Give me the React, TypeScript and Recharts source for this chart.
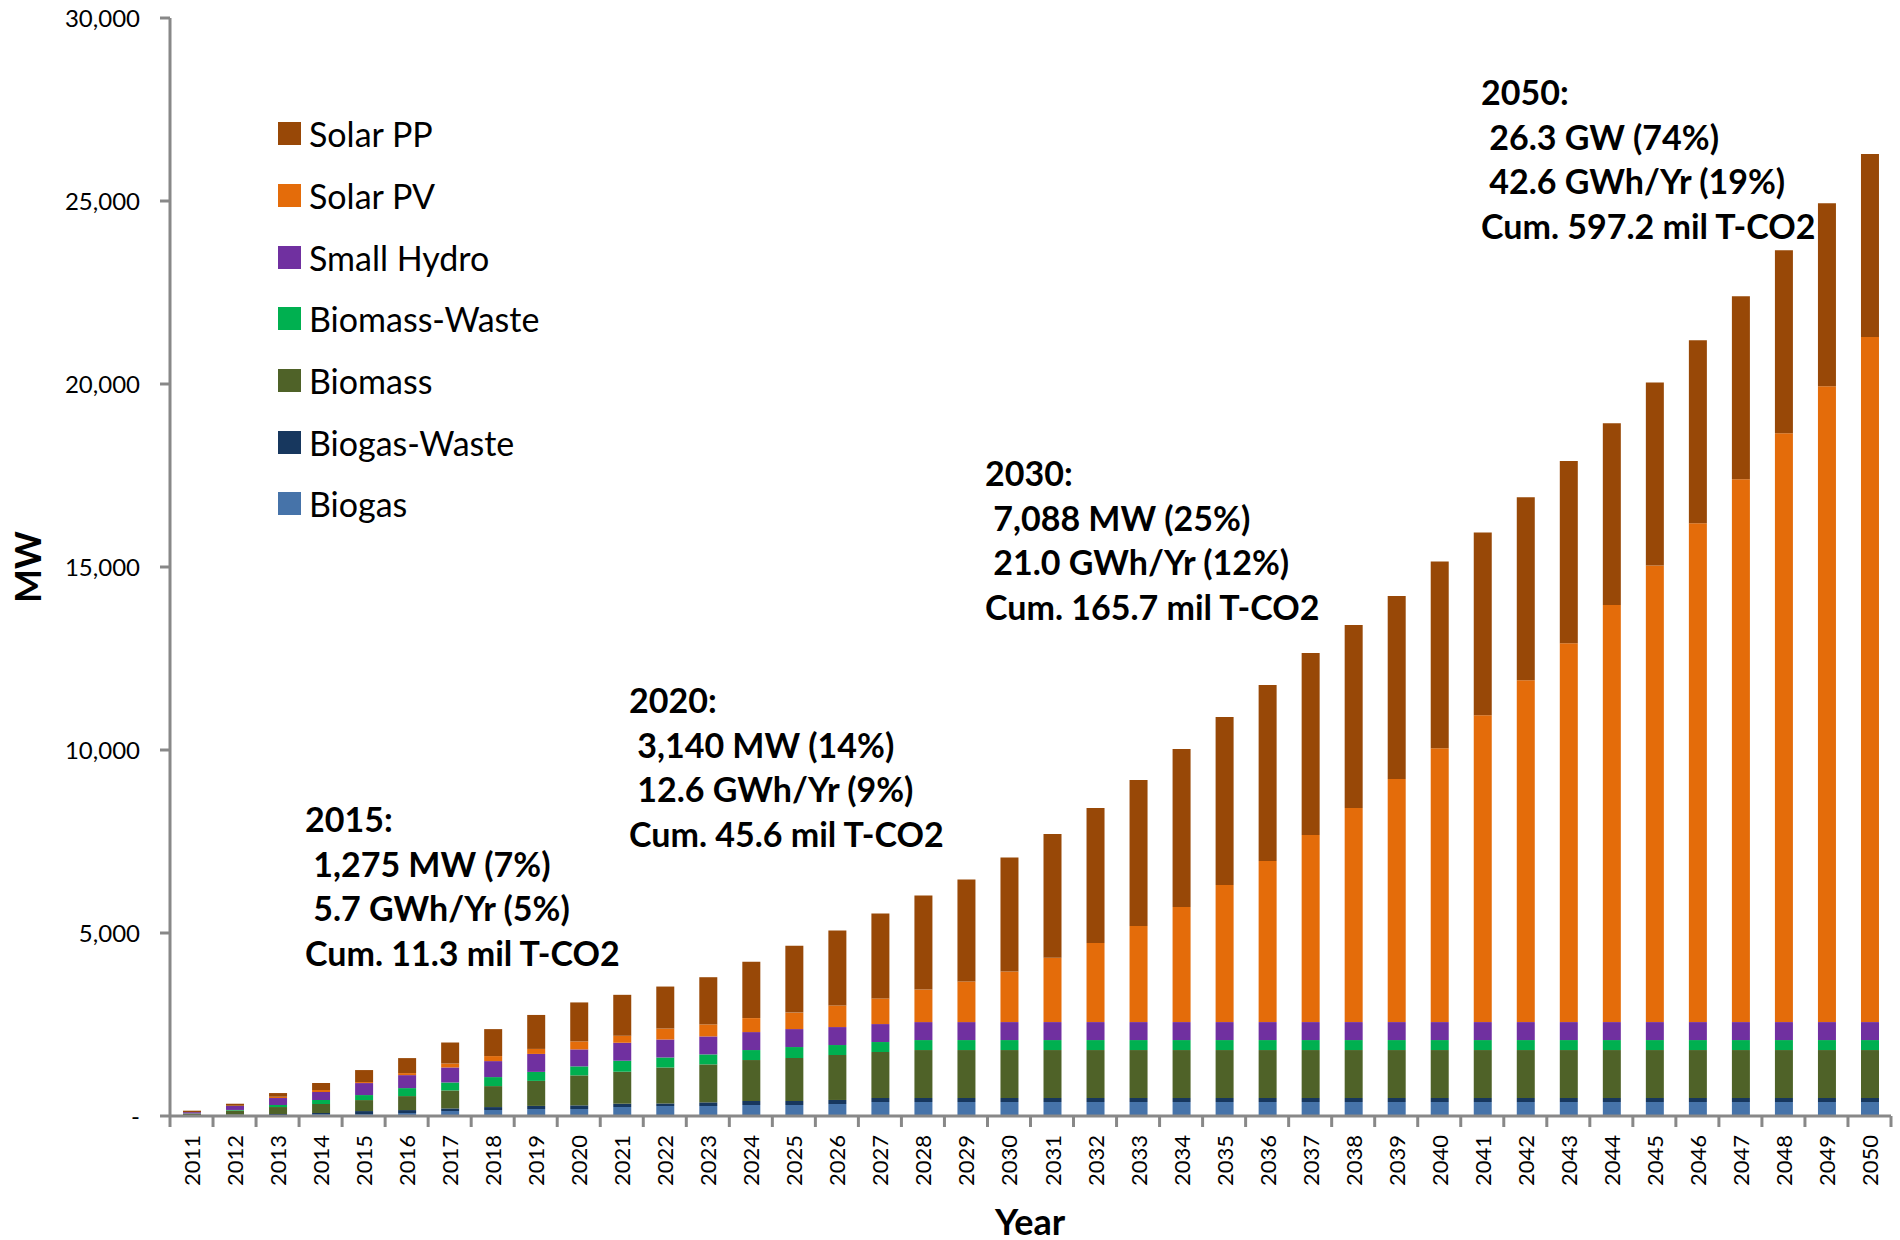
import React from 'react';
import { BarChart, Bar, XAxis, YAxis, Legend } from 'recharts';

const years = ['2011','2012','2013','2014','2015','2016','2017','2018','2019','2020','2021','2022','2023','2024','2025','2026','2027','2028','2029','2030','2031','2032','2033','2034','2035','2036','2037','2038','2039','2040','2041','2042','2043','2044','2045','2046','2047','2048','2049','2050'];

const biogas = [10,20,27,55,55,82,137,164,191,191,246,273,273,300,300,328,382,382,382,382,382,382,382,382,382,382,382,382,382,382,382,382,382,382,382,382,382,382,382,382];
const biogasWaste = [5,20,27,27,80,80,70,80,85,100,90,70,100,110,110,110,110,110,110,110,110,110,110,110,110,110,110,110,110,110,110,110,110,110,110,110,110,110,110,110];
const biomass = [50,110,191,246,300,382,491,573,683,819,874,983,1037,1119,1174,1228,1256,1310,1310,1310,1310,1310,1310,1310,1310,1310,1310,1310,1310,1310,1310,1310,1310,1310,1310,1310,1310,1310,1310,1310];
const biomassWaste = [5,15,55,109,137,218,218,246,246,246,300,273,273,273,300,273,273,273,273,273,273,273,273,273,273,273,273,273,273,273,273,273,273,273,273,273,273,273,273,273];
const smallHydro = [35,110,191,218,328,355,410,437,491,464,491,491,491,491,491,491,491,491,491,491,491,491,491,491,491,491,491,491,491,491,491,491,491,491,491,491,491,491,491,491];
const solarPV = [0,5,36,55,27,55,109,137,137,218,191,300,328,382,450,590,700,890,1110,1380,1760,2162,2626,3145,3746,4402,5113,5850,6643,7484,8386,9337,10348,11394,12476,13632,14834,16085,17372,18719];
const solarPP = [40,55,100,191,328,410,573,737,928,1065,1119,1147,1290,1540,1830,2049,2322,2568,2786,3115,3380,3688,3989,4317,4591,4809,4972,5000,5000,5100,4990,5000,4980,4970,5000,5000,5000,5000,5000,5000];

const yTicks = [0, 5000, 10000, 15000, 20000, 25000, 30000];

const seriesNames = ['Biogas', 'Biogas-Waste', 'Biomass', 'Biomass-Waste', 'Small Hydro', 'Solar PV', 'Solar PP'];
const seriesKeys = ['biogas', 'biogasWaste', 'biomass', 'biomassWaste', 'smallHydro', 'solarPV', 'solarPP'];
const seriesColors = ['#4673A9', '#17375E', '#4F6228', '#00B050', '#7030A0', '#E46C0A', '#984807'];
const legendOrder = ['Solar PP', 'Solar PV', 'Small Hydro', 'Biomass-Waste', 'Biomass', 'Biogas-Waste', 'Biogas'];

const annotations = [
  { lines: ['2015:', ' 1,275 MW (7%)', ' 5.7 GWh/Yr (5%)', 'Cum. 11.3 mil T-CO2'] },
  { lines: ['2020:', ' 3,140 MW (14%)', ' 12.6 GWh/Yr (9%)', 'Cum. 45.6 mil T-CO2'] },
  { lines: ['2030:', ' 7,088 MW (25%)', ' 21.0 GWh/Yr (12%)', 'Cum. 165.7 mil T-CO2'] },
  { lines: ['2050:', ' 26.3 GW (74%)', ' 42.6 GWh/Yr (19%)', 'Cum. 597.2 mil T-CO2'] },
];
const annotationPos = [
  { left: 305, top: 797 },
  { left: 629, top: 678 },
  { left: 985, top: 451 },
  { left: 1481, top: 70 },
];

const data = years.map((y, i) => ({
  year: y,
  biogas: biogas[i],
  biogasWaste: biogasWaste[i],
  biomass: biomass[i],
  biomassWaste: biomassWaste[i],
  smallHydro: smallHydro[i],
  solarPV: solarPV[i],
  solarPP: solarPP[i],
}));

const W = 1900;
const H = 1240;
const M_LEFT = 70;
const Y_W = 100;
const M_RIGHT = 9;
const M_TOP = 18;
const X_H = 80;
const M_BOTTOM = 44;
const AXIS_Y = H - M_BOTTOM - X_H;
const CAT_W = (W - M_LEFT - Y_W - M_RIGHT) / years.length;
const FONT = 'Lato, "Open Sans", sans-serif';

function YearTick(props: any) {
  const { x, payload, index } = props;
  const ty = AXIS_Y + 19;
  return (
    <g>
      <line x1={x + CAT_W / 2} x2={x + CAT_W / 2} y1={AXIS_Y} y2={AXIS_Y + 11} stroke="#888" strokeWidth={3} />
      {index === 0 && (
        <line x1={x - CAT_W / 2} x2={x - CAT_W / 2} y1={AXIS_Y} y2={AXIS_Y + 11} stroke="#888" strokeWidth={3} />
      )}
      <text
        x={x}
        y={ty}
        transform={`rotate(-90 ${x} ${ty})`}
        textAnchor="end"
        dominantBaseline="central"
        fontSize={22}
        fontFamily={FONT}
        fill="#000"
      >
        {payload.value}
      </text>
    </g>
  );
}

function LegendContent(props: any) {
  const payload = (props.payload || [])
    .slice()
    .sort((a: any, b: any) => legendOrder.indexOf(a.value) - legendOrder.indexOf(b.value));
  return (
    <div style={{ fontFamily: FONT }}>
      {payload.map((p: any) => (
        <div key={p.value} style={{ display: 'flex', alignItems: 'center', height: 61.7 }}>
          <div style={{ width: 23, height: 23, background: p.color, marginRight: 8 }} />
          <span style={{ fontSize: 34, color: '#000', whiteSpace: 'nowrap' }}>{p.value}</span>
        </div>
      ))}
    </div>
  );
}

export default function App() {
  return (
    <div style={{ position: 'absolute', left: 0, top: 0, width: W, height: H, background: '#fff', fontFamily: FONT }}>
      <BarChart
        width={W}
        height={H}
        data={data}
        margin={{ top: M_TOP, right: M_RIGHT, left: M_LEFT, bottom: M_BOTTOM }}
        barSize={18}
      >
        <XAxis
          dataKey="year"
          height={X_H}
          interval={0}
          axisLine={{ stroke: '#888', strokeWidth: 3 }}
          tickLine={false}
          tick={<YearTick />}
        />
        <YAxis
          width={Y_W}
          domain={[0, 30000]}
          ticks={yTicks}
          interval={0}
          axisLine={{ stroke: '#888', strokeWidth: 3 }}
          tickLine={{ stroke: '#888', strokeWidth: 3 }}
          tickSize={10}
          tickMargin={20}
          tick={{ fill: '#000', fontSize: 24, fontFamily: FONT }}
          tickFormatter={(v: number) => (v === 0 ? '-' : v.toLocaleString('en-US'))}
        />
        <Legend
          layout="vertical"
          align="center"
          verticalAlign="middle"
          content={<LegendContent />}
          wrapperStyle={{ left: 278, top: 103, width: 400 }}
        />
        {seriesKeys.map((k, i) => (
          <Bar key={k} dataKey={k} name={seriesNames[i]} stackId="a" fill={seriesColors[i]} isAnimationActive={false} />
        ))}
      </BarChart>

      {annotations.map((a, i) => (
        <div
          key={i}
          style={{
            position: 'absolute',
            left: annotationPos[i].left,
            top: annotationPos[i].top,
            fontSize: 34,
            fontWeight: 700,
            lineHeight: '44.5px',
            whiteSpace: 'pre',
            color: '#000',
            fontFamily: FONT,
          }}
        >
          {a.lines.map((l, j) => (
            <div key={j}>{l}</div>
          ))}
        </div>
      ))}

      <div
        style={{
          position: 'absolute',
          left: 1030,
          top: 1221,
          transform: 'translate(-50%, -50%)',
          fontSize: 36,
          fontWeight: 700,
          color: '#000',
          fontFamily: FONT,
        }}
      >
        Year
      </div>
      <div
        style={{
          position: 'absolute',
          left: 27,
          top: 567,
          transform: 'translate(-50%, -50%) rotate(-90deg)',
          fontSize: 36,
          fontWeight: 700,
          color: '#000',
          fontFamily: FONT,
        }}
      >
        MW
      </div>
    </div>
  );
}
